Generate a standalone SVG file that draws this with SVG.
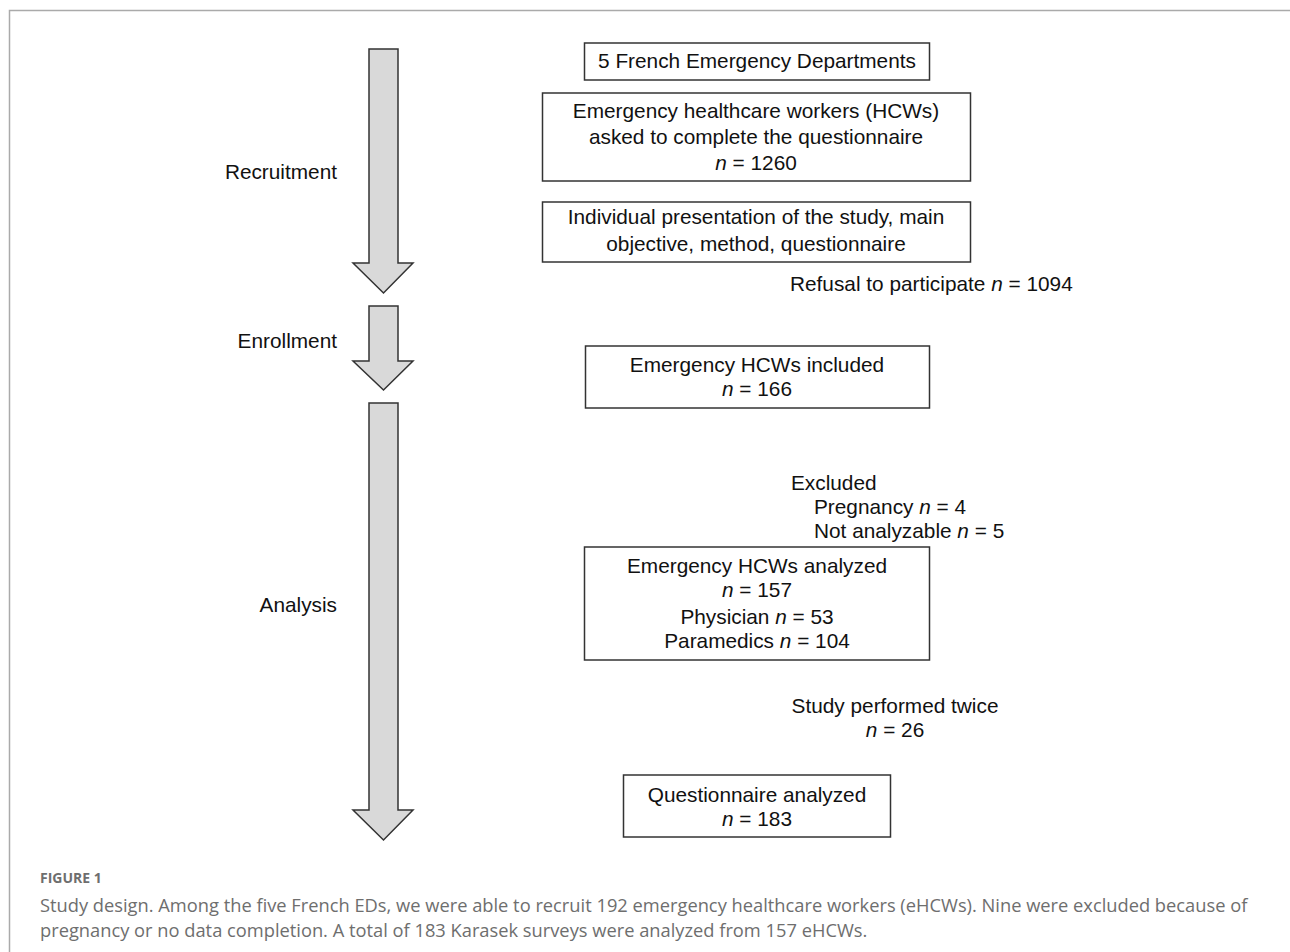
<svg xmlns="http://www.w3.org/2000/svg" width="1290" height="952" viewBox="0 0 1290 952">
<style>
.t{font-family:"Liberation Sans",Arial,sans-serif;font-size:20.8px;fill:#111}
.c{text-anchor:middle}
.r{text-anchor:end}
.box{fill:#fff;stroke:#333;stroke-width:1.5}
.arr{fill:#d9d9d9;stroke:#333;stroke-width:1.5;stroke-linejoin:miter}
.i{font-style:italic}
.cap{font-family:"Open Sans","Liberation Sans",sans-serif;fill:#6e6e6e}
</style>
<rect width="1290" height="952" fill="#fff"/>
<path d="M9.5 952V10.5H1290" fill="none" stroke="#aaa" stroke-width="1.5"/>
<g id="connectors">
<path class="arr" d="M369 49H398V263H413L383.5 293L353 263H369Z"/>
<path class="arr" d="M369 306H398V361H413L383.5 390L353 361H369Z"/>
<path class="arr" d="M369 403H398V810H413L383.5 840L353 810H369Z"/>
</g>
<g id="label-recruitment"><text class="t r" x="337" y="179">Recruitment</text></g>
<g id="label-enrollment"><text class="t r" x="337" y="348">Enrollment</text></g>
<g id="label-analysis"><text class="t r" x="337" y="612">Analysis</text></g>
<g id="node-eds">
<rect class="box" x="584.5" y="43" width="345" height="37"/>
<text class="t c" x="757" y="68">5 French Emergency Departments</text>
</g>
<g id="node-hcws">
<rect class="box" x="542.5" y="93" width="428" height="88"/>
<text class="t c" x="756" y="118">Emergency healthcare workers (HCWs)</text>
<text class="t c" x="756" y="144">asked to complete the questionnaire</text>
<text class="t c" x="756" y="170"><tspan class="i">n</tspan> = 1260</text>
</g>
<g id="node-presentation">
<rect class="box" x="542.5" y="202" width="428" height="60"/>
<text class="t c" x="756" y="224">Individual presentation of the study, main</text>
<text class="t c" x="756" y="251">objective, method, questionnaire</text>
</g>
<g id="label-refusal"><text class="t" x="790" y="291">Refusal to participate <tspan class="i">n</tspan> = 1094</text></g>
<g id="node-included">
<rect class="box" x="585.5" y="346" width="344" height="62"/>
<text class="t c" x="757" y="372">Emergency HCWs included</text>
<text class="t c" x="757" y="396"><tspan class="i">n</tspan> = 166</text>
</g>
<g id="label-excluded">
<text class="t" x="791" y="490">Excluded</text>
<text class="t" x="814" y="514">Pregnancy <tspan class="i">n</tspan> = 4</text>
<text class="t" x="814" y="538">Not analyzable <tspan class="i">n</tspan> = 5</text>
</g>
<g id="node-analyzed">
<rect class="box" x="584.5" y="547" width="345" height="113"/>
<text class="t c" x="757" y="573">Emergency HCWs analyzed</text>
<text class="t c" x="757" y="597"><tspan class="i">n</tspan> = 157</text>
<text class="t c" x="757" y="624">Physician <tspan class="i">n</tspan> = 53</text>
<text class="t c" x="757" y="648">Paramedics <tspan class="i">n</tspan> = 104</text>
</g>
<g id="label-twice">
<text class="t c" x="895" y="713">Study performed twice</text>
<text class="t c" x="895" y="737"><tspan class="i">n</tspan> = 26</text>
</g>
<g id="node-questionnaire">
<rect class="box" x="623.5" y="775" width="267" height="62"/>
<text class="t c" x="757" y="802">Questionnaire analyzed</text>
<text class="t c" x="757" y="826"><tspan class="i">n</tspan> = 183</text>
</g>
<g id="caption">
<text class="cap" x="40" y="883" font-size="14" font-weight="bold">FIGURE 1</text>
<text class="cap" x="40" y="912" font-size="18.3">Study design. Among the five French EDs, we were able to recruit 192 emergency healthcare workers (eHCWs). Nine were excluded because of</text>
<text class="cap" x="40" y="937" font-size="18.3">pregnancy or no data completion. A total of 183 Karasek surveys were analyzed from 157 eHCWs.</text>
</g>
</svg>
